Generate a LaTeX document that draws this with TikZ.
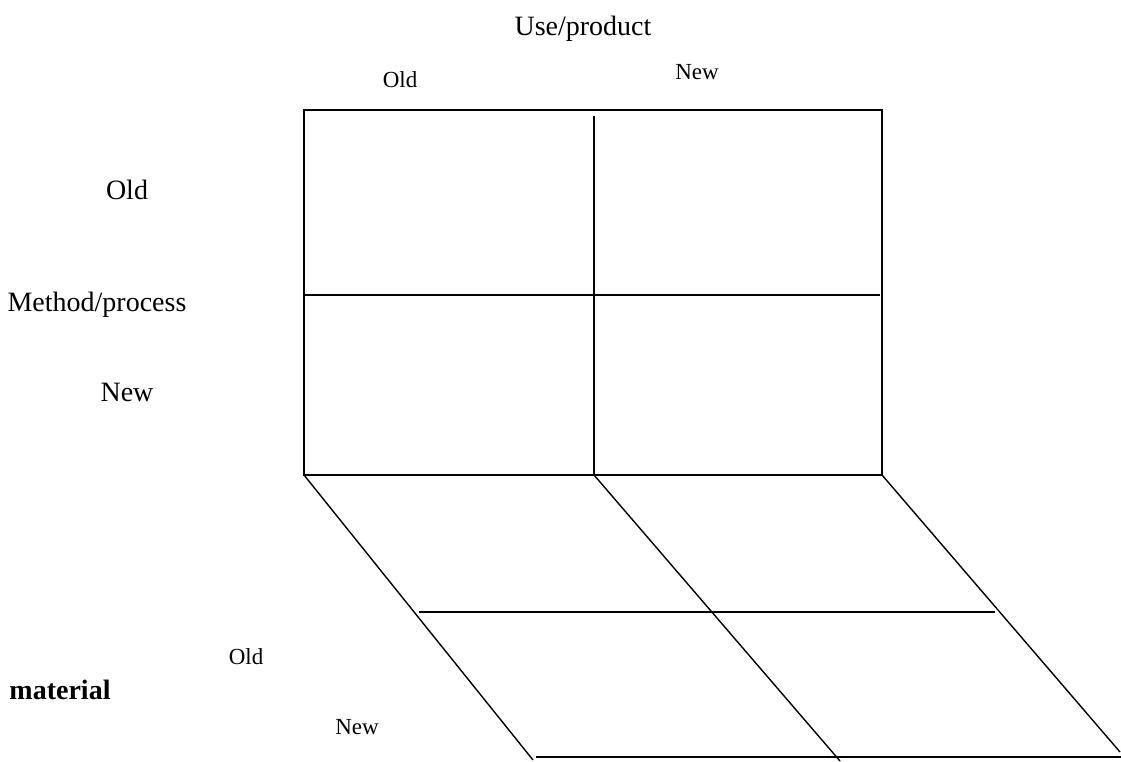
\documentclass[tikz,border=0pt]{standalone}
\usepackage{fontspec}
\setmainfont{Liberation Serif}
\begin{document}
\begin{tikzpicture}[x=1pt,y=-1pt,
  thick line/.style={line width=2.5pt},
  thin line/.style={line width=1.4pt},
  biglabel/.style={inner sep=0pt,font=\fontsize{28}{30}\selectfont},
  smalllabel/.style={inner sep=0pt,font=\fontsize{23}{26}\selectfont}]
\useasboundingbox[fill=white] (0,0) rectangle (1121,761);
% front matrix
\coordinate (tl) at (304,110);
\coordinate (tr) at (882,110);
\coordinate (bl) at (304,475);
\coordinate (br) at (882,475);
\coordinate (mt) at (594,116);
\coordinate (mb) at (594,475);
\coordinate (ml) at (304,295);
\coordinate (mr) at (880,295);
\draw[thick line] (tl) rectangle (br);
\draw[thick line] (mt) -- (mb);
\draw[thick line] (ml) -- (mr);
% floor
\coordinate (d1) at (533,760);
\coordinate (d2) at (840,761);
\coordinate (d3) at (1120,752);
\draw[thin line] (bl) -- (d1);
\draw[thin line] (mb) -- (d2);
\draw[thin line] (br) -- (d3);
\coordinate (fl) at (419,612);
\coordinate (fr) at (995,612);
\draw[thick line] (fl) -- (fr);
\coordinate (gl) at (536,757);
\coordinate (gr) at (1121,757);
\draw[thick line] (gl) -- (gr);
% labels
\node[biglabel] (use) at (583,29) {Use/product};
\node[smalllabel] (uold) at (400,80) {Old};
\node[smalllabel] (unew) at (697,72) {New};
\node[biglabel] (mold) at (127,190) {Old};
\node[biglabel] (meth) at (97,305) {Method/process};
\node[biglabel] (mnew) at (127,392) {New};
\node[smalllabel] (fold) at (246,657) {Old};
\node[biglabel,font=\fontsize{28}{30}\selectfont\bfseries] (mat) at (60,690) {material};
\node[smalllabel] (fnew) at (357,727) {New};
\end{tikzpicture}
\end{document}
